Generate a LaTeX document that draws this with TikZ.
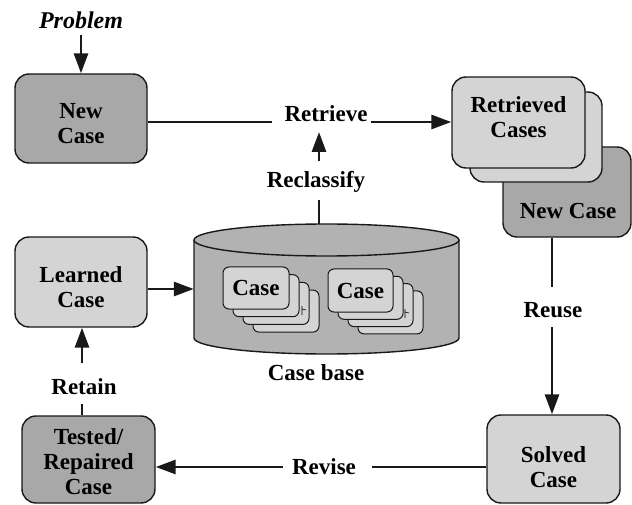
\documentclass[tikz,border=0pt]{standalone}
\usepackage{fontspec}
\setmainfont{Liberation Serif}
\usetikzlibrary{arrows.meta}
\definecolor{boxdark}{gray}{0.66}
\definecolor{boxlight}{gray}{0.83}
\definecolor{cylgray}{gray}{0.70}
\begin{document}
\begin{tikzpicture}[x=1pt,y=-1pt,
  txt/.style={font=\fontsize{23}{25}\selectfont\bfseries, align=center, inner sep=0pt, text=black},
  boxbase/.style={draw=black!90, line width=1.4pt, rounded corners=14pt, inner sep=0pt},
  darkbox/.style={boxbase, fill=boxdark},
  lightbox/.style={boxbase, fill=boxlight},
  card/.style={draw=black!90, line width=1pt, rounded corners=6pt, fill=boxlight,
    minimum width=66pt, minimum height=42pt, inner sep=0pt,
    font=\fontsize{23}{25}\selectfont\bfseries},
  conn/.style={line width=2.9pt, draw=black!90},
  arr/.style={conn, -{Triangle[length=20pt,width=14pt]}},
  cylline/.style={line width=1.4pt, draw=black!90}
]
\useasboundingbox (0,0) rectangle (632,505);

% --- boxes ---
\node[darkbox, minimum width=132pt, minimum height=89pt] (newcase) at (81,118.5) {};
\node[txt] (newcaseT) at (81,124) {New\\Case};

\node[lightbox, minimum width=132pt, minimum height=90pt] (learned) at (81,282) {};
\node[txt] (learnedT) at (81,287) {Learned\\Case};

\node[darkbox, minimum width=133pt, minimum height=87pt] (tested) at (88.5,459.5) {};
\node[txt] (testedT) at (88.5,462) {Tested/\\Repaired\\Case};

\node[lightbox, minimum width=133pt, minimum height=88pt] (solved) at (553.5,459) {};
\node[txt] (solvedT) at (553.5,467) {Solved\\Case};

% retrieved cases stack with new case behind
\node[darkbox, minimum width=128pt, minimum height=90pt] (newcase2) at (567,192) {};
\node[txt] (newcase2T) at (568,211) {New Case};
\node[lightbox, minimum width=132pt, minimum height=90pt] (retrievedB) at (536,137) {};
\node[lightbox, minimum width=133pt, minimum height=91pt] (retrieved) at (518.5,122.5) {};
\node[txt] (retrievedT) at (518.5,117) {Retrieved\\Cases};

% --- case base cylinder ---
\fill[cylgray] (194,240) -- (194,338) arc[start angle=180,end angle=0,x radius=132.5,y radius=16] -- (459,240) -- cycle;
\draw[cylline] (194,240) -- (194,338) arc[start angle=180,end angle=0,x radius=132.5,y radius=16] -- (459,240);
\draw[cylline, fill=cylgray] (326.5,240) ellipse[x radius=132.5, y radius=16];
\node[minimum width=265pt, minimum height=130pt, inner sep=0pt] (cb) at (326.5,289) {};
\node[txt] (cbT) at (316,373) {Case base};

% case card stacks
\foreach \i in {3,2,1}{
  \node[card] (sa\i) at ({256+10*\i},{288+7.7*\i}) {};
}
\node[card] (sa0) at (256,288) {Case};
\foreach \i in {3,2,1}{
  \node[card, minimum width=65pt, minimum height=43pt] (sb\i) at ({360.5+10*\i},{290.5+7.3*\i}) {};
}
\node[card, minimum width=65pt, minimum height=43pt] (sb0) at (360.5,290.5) {Case};
\draw[line width=0.6pt] (302,306) -- (302,315) (302,309) -- (306,310);
\draw[line width=0.6pt] (405,309) -- (405,318) (405,312) -- (409,313);

% --- labels ---
\node[txt, font=\fontsize{24}{25}\selectfont\bfseries\itshape] (problem) at (81,20) {Problem};
\node[txt, anchor=base] (retrieve) at (326,122) {Retrieve};
\node[txt] (reclassify) at (316,182) {Reclassify};
\node[txt] (reuse) at (553,310) {Reuse};
\node[txt] (revise) at (324,467) {Revise};
\node[txt] (retain) at (84,387) {Retain};

% free ends
\coordinate (pr1) at (81,35);
\coordinate (rc0) at (319,224);
\coordinate (rc1) at (319,200);
\coordinate (rc2) at (319,161);
\coordinate (rc3) at (319,132);
\coordinate (ru1) at (552,287);
\coordinate (ru2) at (552,327);
\coordinate (rv1) at (372,467);
\coordinate (rv2) at (283,467);
\coordinate (rt1) at (82,404);
\coordinate (rt2) at (82,363);

% --- connectors ---
\draw[arr] (pr1) -- (newcase.north);
\draw[conn] (newcase.east |- retrieve.base) -- ([xshift=-12pt]retrieve.base west);
\draw[arr] ([xshift=3pt]retrieve.base east) -- (retrieve.base east -| retrieved.west);
\draw[conn] (rc0) -- (rc1);
\draw[arr] (rc2) -- (rc3);
\draw[conn] (ru1 |- newcase2.south) -- (ru1);
\draw[arr] (ru2) -- (ru2 |- solved.north);
\draw[conn] (solved.west |- rv1) -- (rv1);
\draw[arr] (rv2) -- (rv2 -| tested.east);
\draw[conn] (rt1 |- tested.north) -- (rt1);
\draw[arr] (rt2) -- (rt2 |- learned.south);
\draw[arr] (learned.east |- cb.west) -- (cb.west);
\end{tikzpicture}
\end{document}
